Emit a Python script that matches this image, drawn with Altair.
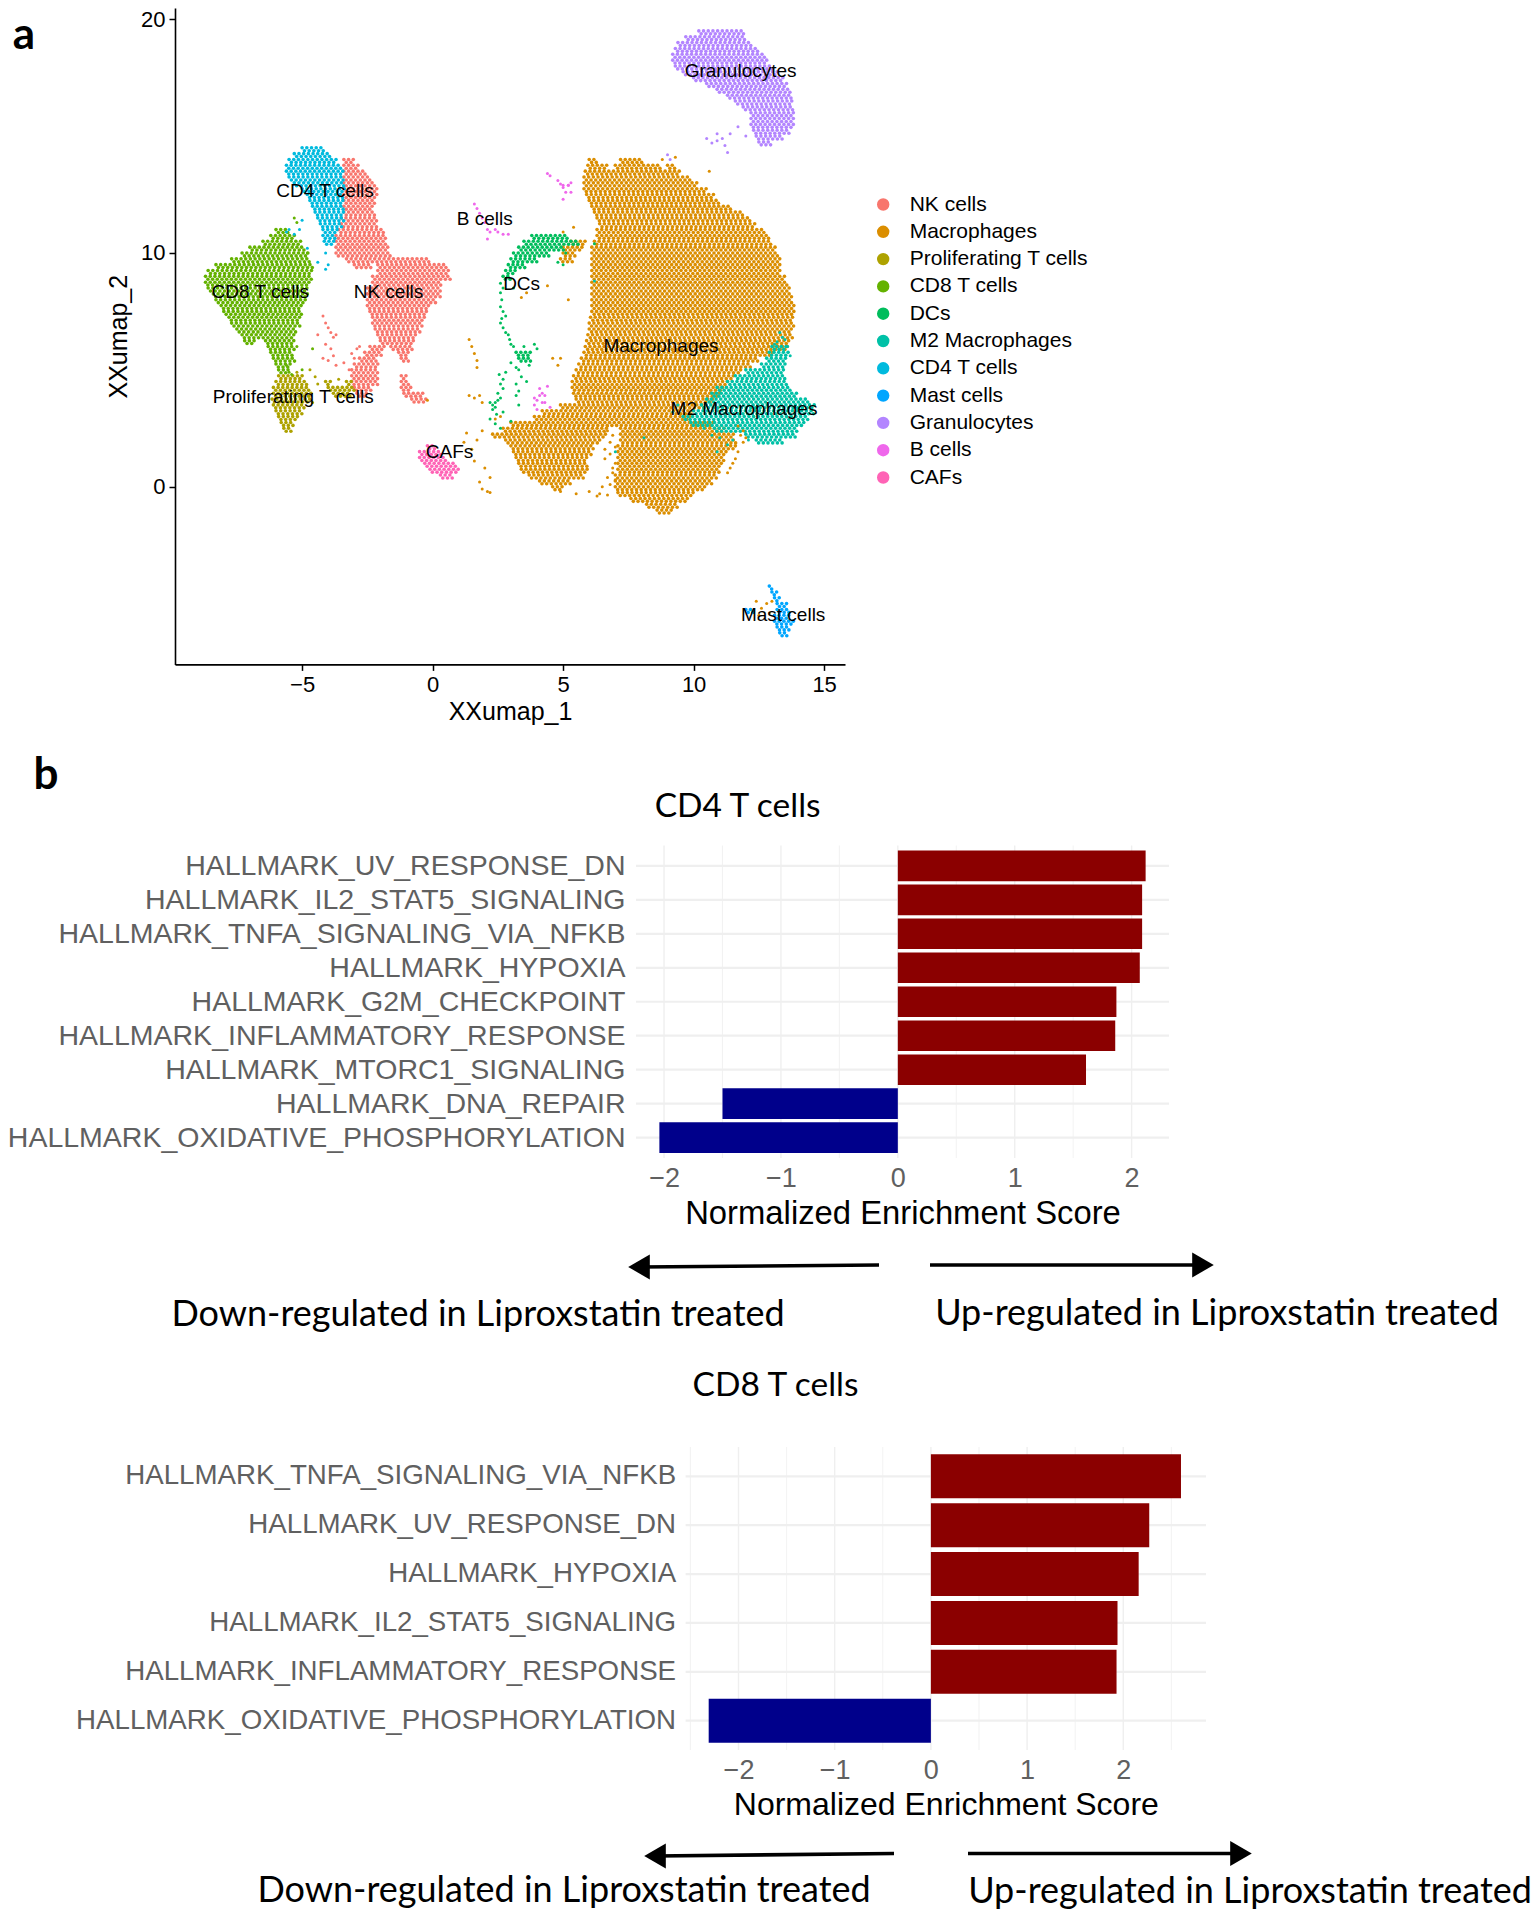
import altair as alt
import pandas as pd

names = ["NK cells","Macrophages","Proliferating T cells","CD8 T cells","DCs","M2 Macrophages",
         "CD4 T cells","Mast cells","Granulocytes","B cells","CAFs"]
hues = ["#F8766D","#DB8E00","#AEA200","#64B200","#00BD5C","#00C1A7","#00BADE","#00A6FF","#B385FF","#EF67EB","#FF63B6"]

# dense regions: (y, x0, x1, [x0, x1 ...])
macrophages = [
 (14.0,6.0,6.3,7.2,8.0),(13.75,5.95,6.7,7.0,8.7,9.0,9.3),(13.5,5.85,9.5),(13.25,5.8,9.9),(13.0,5.8,10.1),
 (12.75,5.8,10.5),(12.5,5.9,10.8),(12.25,6.0,11.0),(12.0,6.1,11.4),(11.75,6.2,11.9),(11.5,6.3,12.2),
 (11.25,6.4,12.4),(11.0,6.3,12.7),(10.75,6.3,12.9),(10.5,5.3,5.9,6.2,13.0),(10.25,5.0,5.7,6.1,13.15),
 (10.0,5.0,5.5,6.1,13.25),(9.75,4.9,5.4,6.1,13.3),(9.5,6.1,13.3),(9.25,6.1,13.35),(9.0,6.1,13.5),
 (8.75,6.1,13.6),(8.5,6.1,13.7),(8.25,6.1,13.75),(8.0,6.1,13.8),(7.75,6.1,13.85),(7.5,6.1,13.85),
 (7.25,6.05,13.85),(7.0,6.0,13.85),(6.75,6.0,13.8),(6.5,5.95,13.8),(6.25,5.9,13.7),(6.0,5.85,13.6),
 (5.75,5.8,13.0),(5.5,5.7,12.5),(5.25,5.6,12.2),(5.0,5.5,11.8),(4.75,5.4,11.5),(4.5,5.35,11.3),
 (4.25,5.35,11.1),(4.0,5.4,11.0),(3.75,5.5,10.7),(3.5,4.9,10.4),(3.25,4.2,10.0),(3.0,3.9,9.9),
 (2.75,3.0,10.8),(2.5,2.7,6.7,7.2,11.2),(2.25,2.3,6.6,7.2,11.5),(2.0,2.8,6.4,7.2,11.6),(1.75,3.0,6.2,7.1,11.6),
 (1.5,3.1,6.1,7.1,11.3),(1.25,3.2,5.9,7.1,11.2),(1.0,3.3,5.9,7.1,11.1),(0.75,3.4,5.9,7.1,11.0),
 (0.5,3.7,5.8,7.0,10.9),(0.25,4.1,5.3,7.0,10.7),(0.0,4.6,5.0,7.0,10.4),(-0.25,7.1,10.0),(-0.5,7.6,9.8),
 (-0.75,8.2,9.4),(-1.0,8.6,9.2)]
m2 = [
 (6.0,13.0,13.6),(5.75,12.9,13.6),(5.5,12.8,13.5),(5.25,12.6,13.5),(5.0,12.0,13.5),(4.75,11.6,13.5),
 (4.5,11.3,13.6),(4.25,10.9,13.7),(4.0,10.7,14.0),(3.75,10.5,14.4),(3.5,10.3,14.6),(3.25,10.0,14.6),
 (3.0,9.6,14.4),(2.75,9.9,14.2),(2.5,10.8,14.0),(2.25,12.0,13.9),(2.0,12.4,13.4)]
granulocytes = [
 (19.5,10.2,11.9),(19.25,9.7,12.0),(19.0,9.4,12.2),(18.75,9.3,12.5),(18.5,9.2,12.7),(18.25,9.2,12.8),
 (18.0,9.3,13.0),(17.75,9.6,13.2),(17.5,10.0,13.4),(17.25,10.5,13.6),(17.0,10.9,13.7),(16.75,11.3,13.75),
 (16.5,11.6,13.8),(16.25,11.9,13.8),(16.0,12.2,13.85),(15.75,12.2,13.85),(15.5,12.2,13.8),(15.25,12.3,13.7),
 (15.0,12.4,13.4),(14.75,12.5,13.0)]
nk = [
 (14.0,-3.4,-3.0),(13.75,-3.4,-2.8),(13.5,-3.4,-2.6),(13.25,-3.4,-2.4),(13.0,-3.4,-2.2),(12.75,-3.4,-2.1),
 (12.5,-3.4,-2.1),(12.25,-3.4,-2.2),(12.0,-3.4,-2.3),(11.75,-3.4,-2.2),(11.5,-3.5,-2.1),(11.25,-3.5,-2.1),
 (11.0,-3.6,-1.9),(10.75,-3.7,-1.8),(10.5,-3.7,-1.8),(10.25,-3.7,-1.7),(10.0,-3.7,-1.6),(9.75,-3.3,-0.1),
 (9.5,-3.0,-2.3,-2.1,0.5),(9.25,-2.1,0.6),(9.0,-2.3,0.65),(8.75,-2.3,0.3),(8.5,-2.5,0.3),(8.25,-2.5,0.3),
 (8.0,-2.5,0.1),(7.75,-2.5,-0.1),(7.5,-2.4,-0.2),(7.25,-2.3,-0.3),(7.0,-2.3,-0.4),(6.75,-2.2,-0.5),
 (6.5,-2.1,-0.6),(6.25,-2.0,-0.7),(6.0,-2.4,-1.8,-1.6,-0.8),(5.75,-2.6,-1.9,-1.3,-0.9),(5.5,-2.8,-2.1,-1.2,-0.9),
 (5.25,-3.0,-2.1),(5.0,-3.1,-2.1),(4.75,-3.1,-2.1,-1.2,-1.0),(4.5,-3.1,-2.1,-1.2,-0.9),(4.25,-3.0,-2.3,-1.2,-0.8),
 (4.0,-2.9,-2.5,-1.1,-0.4),(3.75,-0.8,-0.2)]
cd4 = [
 (14.5,-5.0,-4.2),(14.25,-5.3,-3.9),(14.0,-5.5,-3.7),(13.75,-5.6,-3.5),(13.5,-5.6,-3.4),(13.25,-5.5,-3.4),
 (13.0,-5.3,-3.4),(12.75,-5.0,-3.4),(12.5,-4.8,-3.4),(12.25,-4.7,-3.4),(12.0,-4.6,-3.4),(11.75,-4.5,-3.4),
 (11.5,-4.4,-3.4),(11.25,-4.3,-3.5),(11.0,-4.2,-3.6),(10.75,-4.2,-3.7),(10.5,-4.15,-3.8)]
cd8 = [
 (11.0,-6.0,-5.5),(10.75,-6.2,-5.3),(10.5,-6.5,-5.0),(10.25,-7.0,-4.9),(10.0,-7.3,-4.8),(9.75,-7.7,-4.7),
 (9.5,-8.3,-4.6),(9.25,-8.6,-4.6),(9.0,-8.7,-4.6),(8.75,-8.7,-4.7),(8.5,-8.6,-4.8),(8.25,-8.4,-4.8),
 (8.0,-8.3,-4.9),(7.75,-8.1,-5.0),(7.5,-8.0,-5.0),(7.25,-7.8,-5.1),(7.0,-7.7,-5.1),(6.75,-7.5,-5.2),
 (6.5,-7.3,-5.3),(6.25,-7.2,-6.8,-6.4,-5.3),(6.0,-6.3,-5.3),(5.75,-6.2,-5.4),(5.5,-6.1,-5.3),(5.25,-6.0,-5.4),
 (5.0,-5.9,-5.5)]
prolif = [
 (4.75,-5.9,-5.0),(4.5,-6.0,-4.8,-4.1,-3.9,-3.3,-3.1),(4.25,-6.1,-4.7,-4.0,-3.0),(4.0,-6.1,-4.6,-3.8,-3.1),
 (3.75,-6.15,-4.7),(3.5,-6.1,-4.9),(3.25,-6.0,-5.0),(3.0,-5.9,-5.2),(2.75,-5.8,-5.3),(2.5,-5.7,-5.4)]
dcs = [
 (10.75,3.8,5.2),(10.5,3.5,5.6),(10.25,3.3,5.0),(10.0,3.1,4.5),(9.75,3.0,4.0),(9.5,2.9,3.6),(9.25,2.8,3.2),
 (9.0,2.7,3.0),(5.75,3.2,3.8),(5.5,3.3,3.8)]
mast = [
 (-4.25,12.9,13.0),(-4.5,13.0,13.2),(-4.75,13.1,13.3),(-5.0,13.2,13.6),(-5.25,12.0,12.3,13.2,13.7),
 (-5.5,13.1,13.7),(-5.75,13.1,13.8),(-6.0,13.2,13.7),(-6.25,13.3,13.6)]
cafs = [
 (1.75,-0.2,0.1),(1.5,-0.5,0.3),(1.25,-0.5,0.5),(1.0,-0.3,0.9),(0.75,-0.1,1.0),(0.5,0.3,0.8)]

# scattered cells: x list, y list
stray_mac_x = [1.9,1.7,1.5,1.6,2.0,2.2,1.8,1.9,2.1,2.2,1.4,1.5,1.6,1.7,1.7,1.4,1.6,1.8,1.9,4.6,4.9,4.8,3.6,3.4,4.4,5.2,6.7,6.8,6.6,6.9,6.4,5.5,4.9,6.0,-0.2,9.3,8.8,10.6,5.0,5.4,12.4,12.6,12.8,12.9,12.5,13.0,1.2,1.3,2.4,2.6,
               6.7,6.9,7.0,6.8,6.6,7.0,6.9,6.7,6.8,7.0,6.5,6.3,6.7,11.7,11.8,11.9,11.7,11.6,11.5,11.4,11.9,11.3,12.0]
stray_mac_y = [2.4,2.0,1.6,1.1,0.8,0.4,0.2,-0.1,-0.2,-0.25,6.3,6.0,5.7,5.4,5.1,3.9,3.8,3.9,3.6,5.5,5.5,5.2,8.3,8.1,8.6,8.0,2.6,1.9,1.2,0.8,-0.3,-0.3,-0.2,-0.2,3.7,14.1,14.0,13.5,10.9,11.1,-4.9,-5.2,-5.0,-5.4,-5.5,-4.9,1.9,2.3,2.9,3.0,
               2.4,2.2,1.7,1.4,1.6,1.0,0.6,0.4,0.1,0.3,0.0,-0.4,-0.35,2.6,2.2,1.9,1.5,1.2,1.0,0.8,2.4,0.6,2.1]
stray_dc_x = [2.6,2.7,2.6,2.65,2.6,2.7,2.65,2.8,2.6,2.7,2.8,2.9,2.95,3.0,3.1,3.0,3.2,3.5,3.9,4.0,3.7,3.3,3.4,3.2,3.3,2.8,2.7,2.6,2.7,2.5,2.6,2.4,2.5,2.3,2.4,2.2,2.3,3.3,3.2,2.2,2.4,2.6,3.0,4.8,5.0,5.1,6.2,2.55,2.45,2.7,3.6,3.1]
stray_dc_y = [8.7,8.5,8.3,8.0,7.7,7.5,7.2,7.3,7.0,6.8,6.6,6.5,6.3,6.1,6.0,5.3,5.1,6.0,6.1,5.9,5.2,5.0,4.7,4.4,4.1,4.9,4.6,4.4,4.2,4.0,3.8,3.6,3.7,3.5,3.4,3.6,3.3,3.5,3.9,2.9,2.7,2.5,2.8,9.6,9.5,10.0,10.4,4.8,3.1,3.2,4.5,8.5]
stray_m2_x = [13.2,13.4,13.5,13.1,11.0,11.3,10.9,8.1,7.0,10.4,10.7,9.4,9.2,11.5,6.2,12.1,13.6,13.7,13.3]
stray_m2_y = [6.2,6.4,6.3,6.1,2.1,1.8,1.5,2.1,1.5,2.5,2.2,3.5,3.2,2.0,8.8,2.0,6.0,5.6,6.6]
stray_b_x = [4.5,4.4,4.8,5.0,5.2,5.3,5.3,5.1,5.2,5.0,4.9,5.0,1.6,1.7,1.8,1.9,2.0,2.1,2.2,2.4,2.5,2.1,2.9,2.7,3.9,4.0,4.2,4.4,4.1,4.3,4.0,4.2,3.9,4.5,4.1,4.3]
stray_b_y = [13.3,13.4,13.1,12.9,12.9,13.0,12.6,12.6,12.9,12.3,12.95,12.8,12.1,11.9,11.7,11.5,11.3,11.0,10.9,11.0,10.9,10.6,10.8,10.8,3.5,3.7,4.0,4.3,4.2,3.9,3.3,3.6,3.8,3.4,3.9,3.6]
stray_nk_x = [-4.2,-4.1,-4.0,-3.9,-3.8,-3.7,-4.1,-3.9,-3.8,-4.0,-3.7,-4.2,-4.4,-3.0,-3.1,-3.2,-2.9,-3.4,-2.8]
stray_nk_y = [7.3,7.0,6.8,6.6,6.4,6.5,6.1,5.9,5.6,5.4,5.2,5.5,6.5,5.5,5.7,5.0,5.9,5.3,6.0]
stray_cd4_x = [-5.5,-5.0,-5.1,-5.3,-4.4,-4.1,-4.1,-4.8,-5.6,-4.0]
stray_cd4_y = [11.0,11.4,11.0,10.8,9.6,9.3,10.0,10.2,10.9,9.5]
stray_cd8_x = [-5.3,-5.2,-4.8,-5.5,-5.6,-5.2,-4.6,-5.0,-5.4]
stray_cd8_y = [11.5,11.3,10.0,4.9,5.2,6.0,5.9,5.0,4.8]
stray_pro_x = [-5.2,-4.7,-4.5,-4.4,-3.6,-4.6]
stray_pro_y = [4.9,5.0,4.7,4.4,4.6,3.6]
stray_gran_x = [10.5,10.7,10.9,11.1,11.2,11.3,10.9,11.4,11.7,12.0,9.0,9.1]
stray_gran_y = [14.9,14.7,14.8,14.9,14.6,14.3,15.1,15.1,15.4,15.0,14.2,14.0]

label_names = ["Granulocytes","CD4 T cells","B cells","CD8 T cells","NK cells","DCs","Proliferating T cells","Macrophages","M2 Macrophages","CAFs","Mast cells"]
label_x = [11.8,-4.12,2.0,-6.6,-1.69,3.41,-5.34,8.75,11.93,0.65,13.43]
label_y = [17.8,12.67,11.46,8.33,8.33,8.69,3.83,6.02,3.31,1.48,-5.48]

cd4_terms = ["HALLMARK_UV_RESPONSE_DN","HALLMARK_IL2_STAT5_SIGNALING","HALLMARK_TNFA_SIGNALING_VIA_NFKB","HALLMARK_HYPOXIA",
             "HALLMARK_G2M_CHECKPOINT","HALLMARK_INFLAMMATORY_RESPONSE","HALLMARK_MTORC1_SIGNALING","HALLMARK_DNA_REPAIR","HALLMARK_OXIDATIVE_PHOSPHORYLATION"]
cd4_nes = [2.12,2.09,2.09,2.07,1.87,1.86,1.61,-1.50,-2.04]
cd8_terms = ["HALLMARK_TNFA_SIGNALING_VIA_NFKB","HALLMARK_UV_RESPONSE_DN","HALLMARK_HYPOXIA","HALLMARK_IL2_STAT5_SIGNALING",
             "HALLMARK_INFLAMMATORY_RESPONSE","HALLMARK_OXIDATIVE_PHOSPHORYLATION"]
cd8_nes = [2.60,2.27,2.16,1.94,1.93,-2.31]

W, H = 1524, 1902
DX = 0.18
ROW = 0.125
MARGIN = 8

def cell_rows(cluster, rows):
    out = []
    for row in rows:
        y, spans = row[0], row[1:]
        for half in (0, 1):
            for a, b in zip(spans[0::2], spans[1::2]):
                x = a + DX / 2 * half
                while x <= b + 0.02:
                    out.append({"x": round(x, 3), "y": y - ROW * half, "cluster": cluster})
                    x += DX
    return out

dense = []
for cl, rows in [("Macrophages", macrophages), ("M2 Macrophages", m2), ("NK cells", nk), ("CD4 T cells", cd4),
                 ("CD8 T cells", cd8), ("Proliferating T cells", prolif), ("DCs", dcs), ("Mast cells", mast),
                 ("Granulocytes", granulocytes), ("CAFs", cafs)]:
    dense += cell_rows(cl, rows)
dense = pd.DataFrame(dense)

stray = []
for cl, xs, ys in [("Macrophages", stray_mac_x, stray_mac_y), ("DCs", stray_dc_x, stray_dc_y), ("M2 Macrophages", stray_m2_x, stray_m2_y),
                   ("B cells", stray_b_x, stray_b_y), ("NK cells", stray_nk_x, stray_nk_y), ("CD4 T cells", stray_cd4_x, stray_cd4_y),
                   ("CD8 T cells", stray_cd8_x, stray_cd8_y), ("Proliferating T cells", stray_pro_x, stray_pro_y), ("Granulocytes", stray_gran_x, stray_gran_y)]:
    stray += [{"x": a, "y": b, "cluster": cl} for a, b in zip(xs, ys)]
stray = pd.DataFrame(stray)

# panel a scales
ax_dom, ax_rng = [-9.87, 15.8], [175 - MARGIN, 845 - MARGIN]
ay_dom, ay_rng = [-7.6, 20.48], [664.4 - MARGIN, 0]
sx = alt.Scale(domain=ax_dom, range=ax_rng, nice=False, zero=False)
sy = alt.Scale(domain=ay_dom, range=ay_rng, nice=False, zero=False)
col = alt.Scale(domain=names, range=hues)

legend = alt.Legend(orient="none", legendX=882.7 - MARGIN - 10, legendY=208 - MARGIN - 14, title=None,
                    labelFont="Liberation Sans", labelFontSize=21, labelColor="black", symbolSize=154, labelLimit=400,
                    symbolType="circle", symbolStrokeWidth=0, labelOffset=16, rowPadding=5.3, padding=0)

layers = []
layers.append(alt.Chart(dense).mark_point(filled=True, size=13, opacity=1).encode(
    x=alt.X("x:Q", scale=sx, axis=alt.Axis(orient="bottom", offset=664.4 - MARGIN - H, values=[-5, 0, 5, 10, 15], grid=False,
                                            domainColor="black", domainWidth=1.6, tickColor="black", tickWidth=1.5, tickSize=6,
                                            labelFont="Liberation Sans", labelFontSize=22, labelColor="black", labelPadding=4,
                                            title="XXumap_1", titleFont="Liberation Sans", titleFontSize=25, titleFontWeight="normal",
                                            titleColor="black", titlePadding=4)),
    y=alt.Y("y:Q", scale=sy, axis=alt.Axis(orient="left", offset=-(175 - MARGIN), values=[0, 10, 20], grid=False,
                                            domainColor="black", domainWidth=1.6, tickColor="black", tickWidth=1.5, tickSize=6,
                                            labelFont="Liberation Sans", labelFontSize=22, labelColor="black", labelPadding=4,
                                            title="XXumap_2", titleFont="Liberation Sans", titleFontSize=25, titleFontWeight="normal",
                                            titleColor="black", titlePadding=9)),
    color=alt.Color("cluster:N", scale=col, legend=legend)))
layers.append(alt.Chart(stray).mark_point(filled=True, size=9, opacity=1).encode(
    x=alt.X("x:Q", scale=sx, axis=None), y=alt.Y("y:Q", scale=sy, axis=None),
    color=alt.Color("cluster:N", scale=col, legend=None)))
layers.append(alt.Chart(pd.DataFrame({"x": label_x, "y": label_y, "t": label_names})).mark_text(
    font="Liberation Sans", fontSize=19, color="black").encode(
    x=alt.X("x:Q", scale=sx, axis=None), y=alt.Y("y:Q", scale=sy, axis=None), text="t:N"))


def bars(terms, nes, x_dom, x_rng, y_rng, major, minor, label_size, title_size, title_pad, label_pad):
    df = pd.DataFrame({"term": terms, "nes": nes})
    df["zero"] = 0
    df["x0"], df["x1"] = x_dom[0], x_dom[1]
    df["sign"] = ["up" if v > 0 else "down" for v in nes]
    X = alt.Scale(domain=x_dom, range=x_rng, nice=False, zero=False)
    Y = alt.Scale(domain=terms, range=y_rng, paddingInner=0.1, paddingOuter=0.15)
    out = []
    vg = pd.DataFrame({"v": major + minor, "w": ["ma"] * len(major) + ["mi"] * len(minor),
                       "t": y_rng[0], "b": y_rng[1]})
    out.append(alt.Chart(vg).mark_rule(color="#EFEFEF").encode(
        x=alt.X("v:Q", scale=X, axis=None), y=alt.Y("t:Q", scale=None, axis=None), y2="b:Q",
        strokeWidth=alt.StrokeWidth("w:N", scale=alt.Scale(domain=["ma", "mi"], range=[1.4, 0.8]), legend=None)))
    out.append(alt.Chart(df).mark_rule(color="#EFEFEF", strokeWidth=2.2).encode(
        x=alt.X("x0:Q", scale=X, axis=None), x2="x1:Q", y=alt.Y("term:N", scale=Y, axis=None)))
    out.append(alt.Chart(df).mark_bar().encode(
        x=alt.X("nes:Q", scale=X, axis=alt.Axis(orient="bottom", offset=y_rng[1] - H, values=major, grid=False, domain=False, ticks=False,
                                                labelFont="Liberation Sans", labelFontSize=27, labelColor="#606060", labelPadding=title_pad[0],
                                                title="Normalized Enrichment Score", titleFont="Liberation Sans", titleFontSize=title_size,
                                                titleFontWeight="normal", titleColor="black", titlePadding=title_pad[1])),
        x2="zero:Q",
        y=alt.Y("term:N", scale=Y, sort=None, axis=alt.Axis(orient="left", offset=-(x_rng[0]), grid=False, domain=False, ticks=False,
                                                 labelFont="Liberation Sans", labelFontSize=label_size, labelColor="#606060",
                                                 labelPadding=label_pad, labelLimit=700, title=None)),
        color=alt.Color("sign:N", scale=alt.Scale(domain=["up", "down"], range=["#8B0000", "#00008B"]), legend=None)))
    return out

layers += bars(cd4_terms, cd4_nes, [-2.24, 2.32], [636 - MARGIN, 1169 - MARGIN], [845.5 - MARGIN, 1158 - MARGIN],
               [-2, -1, 0, 1, 2], [-1.5, -0.5, 0.5, 1.5], 28.5, 32.8, (7, 6.5), 11)
layers += bars(cd8_terms, cd8_nes, [-2.55, 2.86], [685.6 - MARGIN, 1206 - MARGIN], [1447 - MARGIN, 1750 - MARGIN],
               [-2, -1, 0, 1, 2], [-2.5, -1.5, -0.5, 0.5, 1.5, 2.5], 27.7, 32, (7.5, 5.5), 10)

# annotations in page pixels
t_x = [24, 46, 737.6, 775.5, 478, 1217, 564, 1250]
t_y = [36, 776, 807, 1386, 1315, 1314, 1891, 1892]
t_s = ["a", "b", "CD4 T cells", "CD8 T cells", "Down-regulated in Liproxstatin treated", "Up-regulated in Liproxstatin treated",
       "Down-regulated in Liproxstatin treated", "Up-regulated in Liproxstatin treated"]
t_f = [44, 44, 33.5, 33.5, 36, 36, 36, 36]
t_b = ["bold", "bold", "normal", "normal", "normal", "normal", "normal", "normal"]
ann = pd.DataFrame({"x": [v - MARGIN for v in t_x], "y": [v - MARGIN for v in t_y], "s": t_s, "f": t_f, "b": t_b})
for weight in ["bold", "normal"]:
    for fs in sorted(set(ann[ann.b == weight].f)):
        sub = ann[(ann.b == weight) & (ann.f == fs)]
        layers.append(alt.Chart(sub).mark_text(font="Lato", fontSize=float(fs), fontWeight=weight, color="black").encode(
            x=alt.X("x:Q", scale=None, axis=None), y=alt.Y("y:Q", scale=None, axis=None), text="s:N"))

arrow_x0 = [879, 930, 894, 968]
arrow_y0 = [1265, 1265, 1853.5, 1853.5]
arrow_x1 = [639, 1203, 655, 1241]
arrow_y1 = [1267, 1265, 1856, 1853.5]
arrow_shape = ["triangle-left", "triangle-right", "triangle-left", "triangle-right"]
arr = pd.DataFrame({"x0": [v - MARGIN for v in arrow_x0], "y0": [v - MARGIN for v in arrow_y0],
                    "x1": [v - MARGIN for v in arrow_x1], "y1": [v - MARGIN for v in arrow_y1], "sh": arrow_shape})
layers.append(alt.Chart(arr).mark_rule(color="black", strokeWidth=3.6).encode(
    x=alt.X("x0:Q", scale=None, axis=None), y=alt.Y("y0:Q", scale=None, axis=None), x2="x1:Q", y2="y1:Q"))
layers.append(alt.Chart(arr).mark_point(filled=True, color="black", size=620, opacity=1).encode(
    x=alt.X("x1:Q", scale=None, axis=None), y=alt.Y("y1:Q", scale=None, axis=None),
    shape=alt.Shape("sh:N", scale=None, legend=None)))

chart = alt.layer(*layers).resolve_scale(x="independent", y="independent", color="independent", shape="independent", strokeWidth="independent").resolve_axis(
    x="independent", y="independent").resolve_legend(color="independent").properties(
    width=W, height=H, padding=0, autosize="none", background="white"
).configure_view(stroke=None)

chart.save("out.html", embed_options={"renderer": "svg", "actions": False})
